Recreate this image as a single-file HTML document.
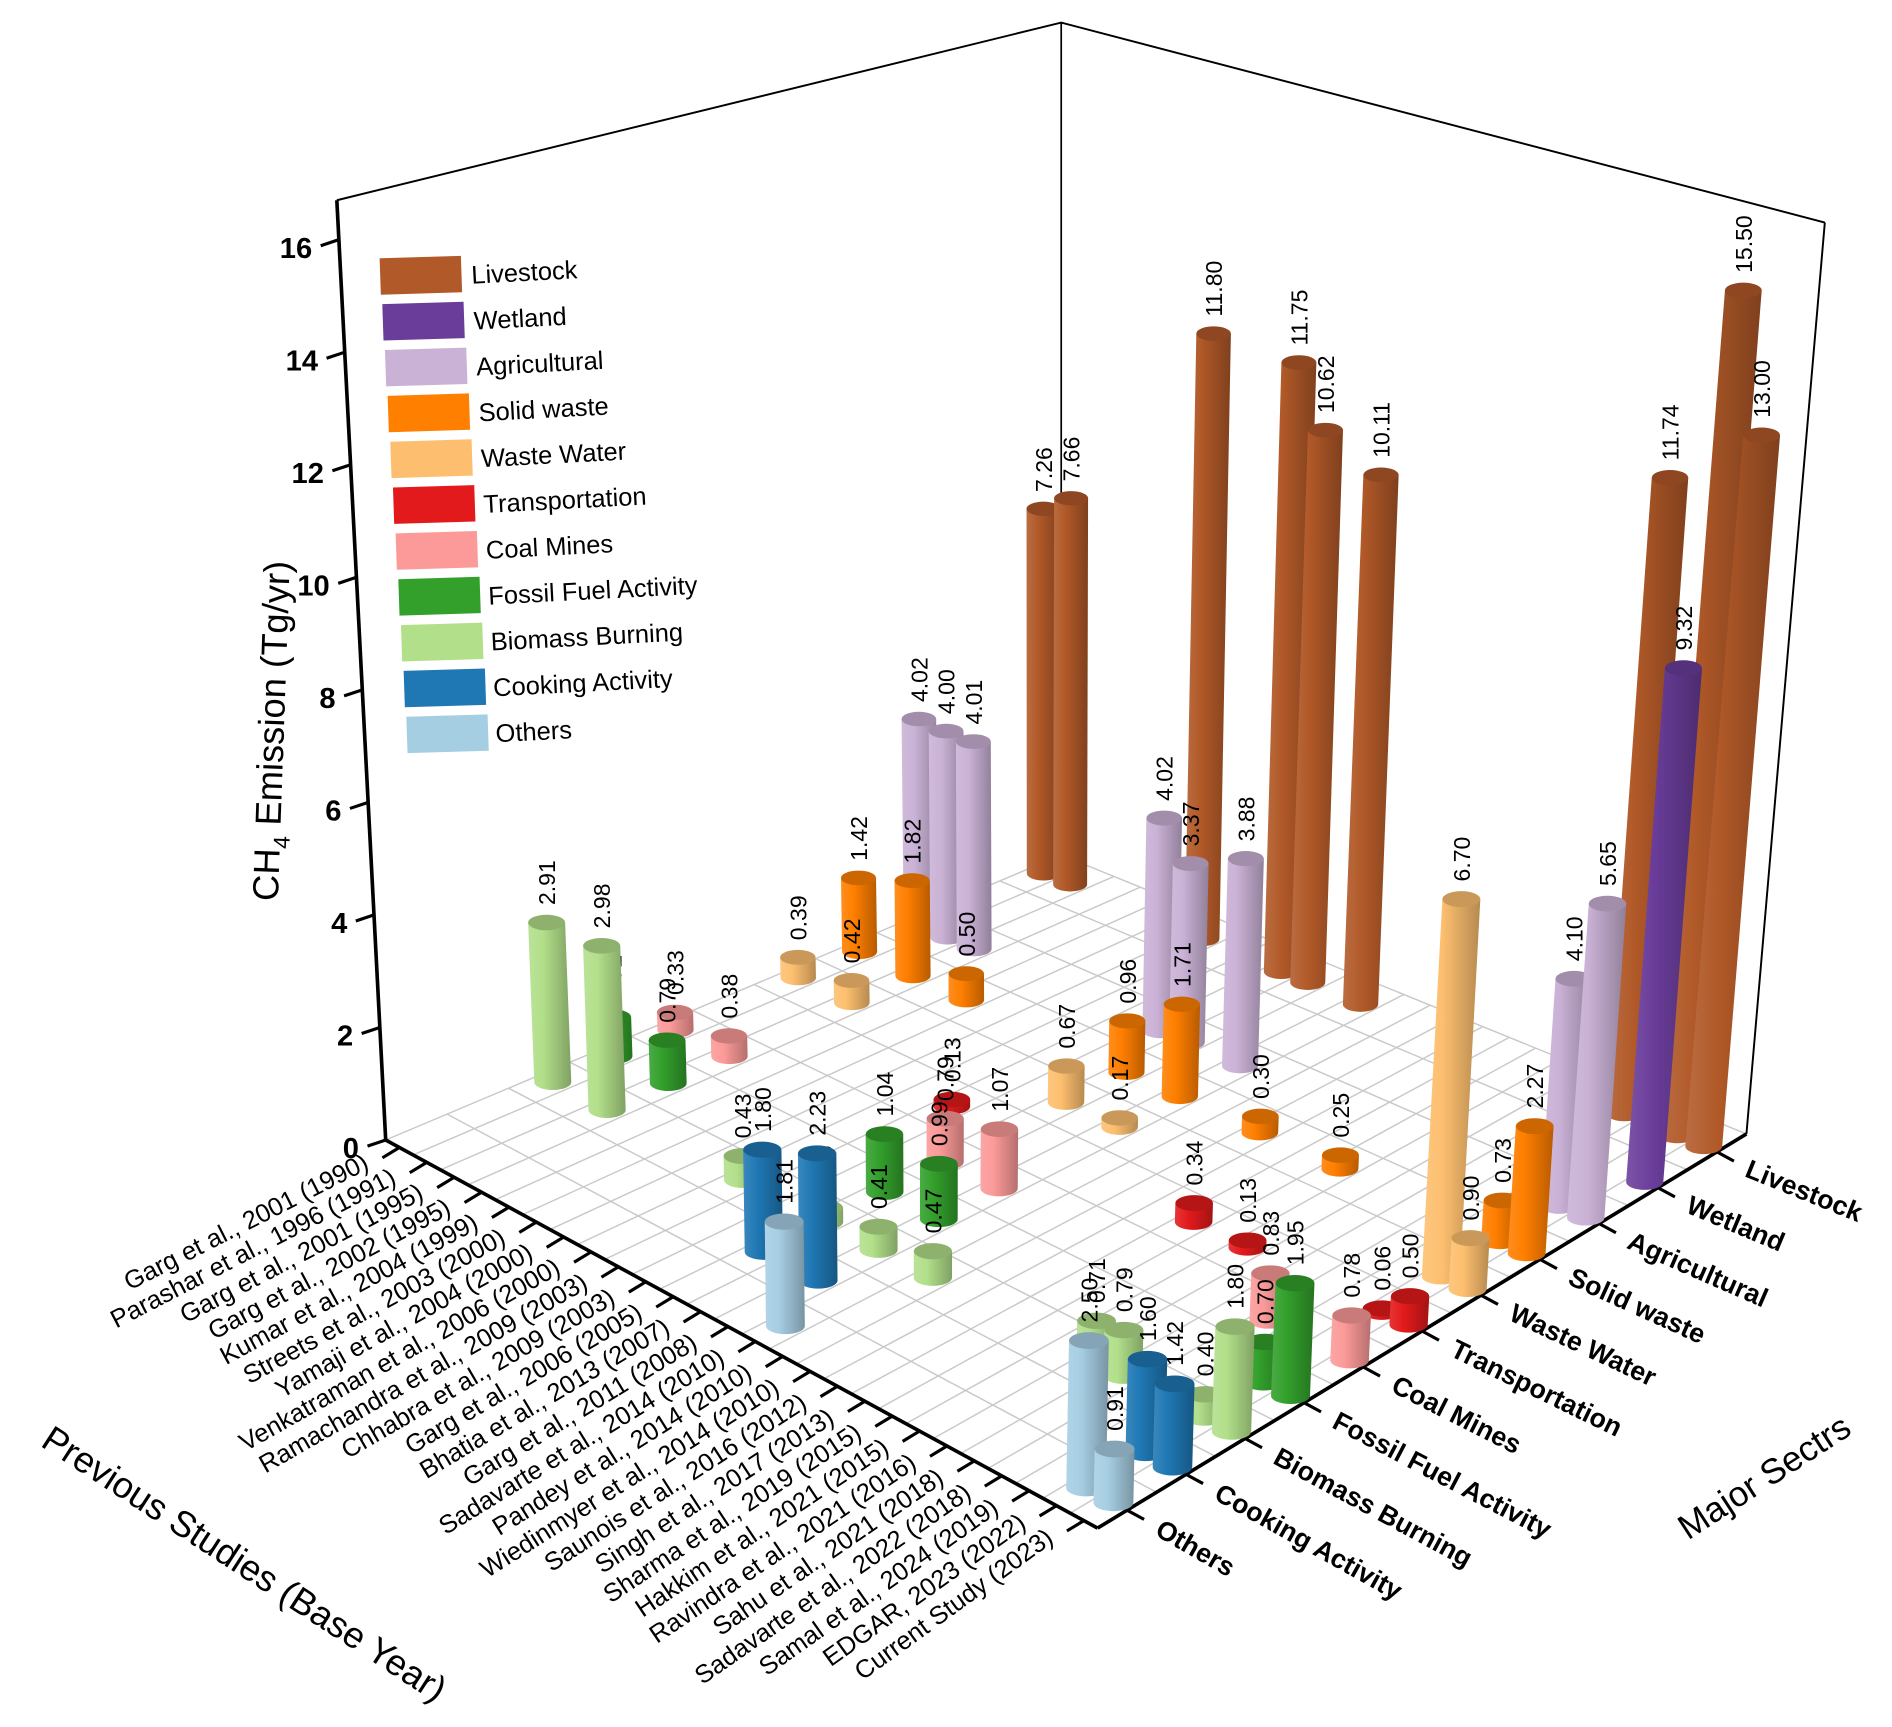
<!DOCTYPE html>
<html><head><meta charset="utf-8"><style>
html,body{margin:0;padding:0;background:#fff;}
svg{display:block;}
text{font-family:"Liberation Sans",Arial,sans-serif;}
</style></head><body>
<svg id="chart" xmlns="http://www.w3.org/2000/svg" width="1892" height="1727" viewBox="0 0 1560 1424">
<defs id="defs"></defs>
<g id="grid"></g>
<g id="walls"></g>
<g id="axes"></g>
<g id="legend"></g>
<g id="bars"></g>
<text transform="translate(234,603) rotate(-88)" text-anchor="middle" font-size="30" fill="#000">CH<tspan font-size="19" dy="8">4</tspan><tspan dy="-8"> Emission (Tg/yr)</tspan></text>
<text transform="translate(196,1298) rotate(33)" text-anchor="middle" font-size="30" fill="#000">Previous Studies (Base Year)</text>
<text transform="translate(1460,1226) rotate(-33)" text-anchor="middle" font-size="29" fill="#000">Major Sectrs</text>
</svg>
<script>
const studies=["Garg et al., 2001 (1990)","Parashar et al., 1996 (1991)","Garg et al., 2001 (1995)","Garg et al., 2002 (1995)","Kumar et al., 2004 (1999)","Streets et al., 2003 (2000)","Yamaji et al., 2004 (2000)","Venkatraman et al., 2006 (2000)","Ramachandra et al., 2009 (2003)","Chhabra et al., 2009 (2003)","Garg et al., 2006 (2005)","Bhatia et al., 2013 (2007)","Garg et al., 2011 (2008)","Sadavarte et al., 2014 (2010)","Pandey et al., 2014 (2010)","Wiedinmyer et al., 2014 (2010)","Saunois et al., 2016 (2012)","Singh et al., 2017 (2013)","Sharma et al., 2019 (2015)","Hakkim et al., 2021 (2015)","Ravindra et al., 2021 (2016)","Sahu et al., 2021 (2018)","Sadavarte et al., 2022 (2018)","Samal et al., 2024 (2019)","EDGAR, 2023 (2022)","Current Study (2023)"];
const sectors=["Others","Cooking Activity","Biomass Burning","Fossil Fuel Activity","Coal Mines","Transportation","Waste Water","Solid waste","Agricultural","Wetland","Livestock"];
const zTicks=[0,2,4,6,8,10,12,14,16];
const barStudy=[0,0,0,0,0,0,0, 1,1, 2,2,2,2,2,2, 4, 6, 7, 8, 9,9, 10,10,10,10,10,10,10,10, 12,12,12,12,12,12,12,12, 13,14,15,17,18,19,20,21,22,22, 24,24,24,24,24,24,24,24,24, 25,25,25,25,25,25,25,25,25,25,25];
const barSector=[2,3,4,6,7,8,10, 8,10, 2,3,4,6,7,8, 7, 10, 2, 5, 8,10, 1,2,3,4,6,7,8,10, 1,2,3,4,6,7,8,10, 0,2,7,5,7,5,2,2,4,10, 0,1,2,3,5,6,7,8,10, 0,1,2,3,4,5,6,7,8,9,10];
const barValue=[2.91,0.72,0.33,0.39,1.42,4.02,7.26, 4.00,7.66, 2.98,0.79,0.38,0.42,1.82,4.01, 0.50, 11.80, 0.43, 0.13, 4.02,11.75, 1.80,0.25,1.04,0.79,0.67,0.96,3.37,10.62, 2.23,0.41,0.99,1.07,0.17,1.71,3.88,10.11, 1.81,0.47,0.30,0.34,0.25,0.13,0.71,0.79,0.83,11.74, 2.50,1.60,0.40,0.70,0.06,6.70,0.73,4.10,15.50, 0.91,1.42,1.80,1.95,0.78,0.50,0.90,2.27,5.65,9.32,13.00];
const sectorColors=["#a6cee3","#1f78b4","#b2df8a","#33a02c","#fb9a99","#e31a1c","#fdbf6f","#ff7f00","#cab2d6","#6a3d9a","#b15928"];

const NS="http://www.w3.org/2000/svg";
const zMax=16.7;
const CL=[318,940],CF=[905,1260],CR=[1440,935],CB=[875,705];
const SC={L:46.4,F:49,R:45,B:41.1};
const TL={L:-0.052,F:0.02,R:0.086,B:0};
function bil(a,f,r,b,u,v){return (1-u)*(1-v)*a+u*(1-v)*f+u*v*r+(1-u)*v*b;}
function floorPt(u,v){return [bil(CL[0],CF[0],CR[0],CB[0],u,v),bil(CL[1],CF[1],CR[1],CB[1],u,v)];}
function scaleAt(u,v){return bil(SC.L,SC.F,SC.R,SC.B,u,v);}
function tiltAt(u,v){return bil(TL.L,TL.F,TL.R,TL.B,u,v);}
function uOf(i){return (i+0.5)/studies.length;}
function vOf(j){return (j+0.5)/sectors.length;}
function pt3(u,v,z){const p=floorPt(u,v);const h=z*scaleAt(u,v);return [p[0]+tiltAt(u,v)*h,p[1]-h];}
function el(tag,attrs,parent){const e=document.createElementNS(NS,tag);for(const k in attrs)e.setAttribute(k,attrs[k]);parent.appendChild(e);return e;}
function shade(hex,f){let r=parseInt(hex.substr(1,2),16),g=parseInt(hex.substr(3,2),16),b=parseInt(hex.substr(5,2),16);
 if(f>1){r=r+(255-r)*(f-1);g=g+(255-g)*(f-1);b=b+(255-b)*(f-1);}else{r*=f;g*=f;b*=f;}
 return "rgb("+Math.round(r)+","+Math.round(g)+","+Math.round(b)+")";}

const defs=document.getElementById('defs');
sectorColors.forEach((c,j)=>{
 const g=el('linearGradient',{id:'grad'+j,x1:'0',y1:'0',x2:'1',y2:'0'},defs);
 el('stop',{offset:'0','stop-color':shade(c,1.12)},g);
 el('stop',{offset:'0.35','stop-color':shade(c,1.0)},g);
 el('stop',{offset:'1','stop-color':shade(c,0.72)},g);
});

const grid=document.getElementById('grid');
for(let k=0;k<=studies.length;k++){const u=k/studies.length;const a=floorPt(u,0),b=floorPt(u,1);
 const ln=el('line',{x1:a[0],y1:a[1],x2:b[0],y2:b[1],stroke:'#c9c9c9','stroke-width':1.2},grid);
 
 }
for(let k=0;k<=sectors.length;k++){const v=k/sectors.length;const a=floorPt(0,v),b=floorPt(1,v);
 const ln=el('line',{x1:a[0],y1:a[1],x2:b[0],y2:b[1],stroke:'#c9c9c9','stroke-width':1.2},grid);
 
 }

const walls=document.getElementById('walls');
const tL=pt3(0,0,zMax),tB=pt3(0,1,zMax),tR=pt3(1,1,zMax);
const wl=el('polyline',{points:[tL,tB,tR].map(p=>p.join(',')).join(' '),fill:'none',stroke:'#000','stroke-width':1.6},walls);


const wb=el('line',{x1:CB[0],y1:CB[1],x2:tB[0],y2:tB[1],stroke:'#000','stroke-width':1.4},walls);


const wr=el('line',{x1:CR[0],y1:CR[1],x2:tR[0],y2:tR[1],stroke:'#000','stroke-width':1.6},walls);



const axes=document.getElementById('axes');
const ax1=el('line',{x1:CL[0],y1:CL[1],x2:CF[0],y2:CF[1],stroke:'#000','stroke-width':3},axes);


const ax2=el('line',{x1:CF[0],y1:CF[1],x2:CR[0],y2:CR[1],stroke:'#000','stroke-width':3},axes);


const ax3=el('line',{x1:CL[0],y1:CL[1],x2:tL[0],y2:tL[1],stroke:'#000','stroke-width':3},axes);


const nS=studies.length,nJ=sectors.length;
studies.forEach((s,i)=>{
 const u=uOf(i);const p=floorPt(u,0);
 const tk=el('line',{x1:p[0],y1:p[1],x2:p[0]-14,y2:p[1]+8.5,stroke:'#000','stroke-width':2.6},axes);
 
 
 const ang=-27-9*i/(nS-1);
 const t=el('text',{transform:'translate('+(p[0]-24)+','+(p[1]+17)+') rotate('+ang+')','text-anchor':'end','font-size':21,fill:'#000'},axes);
 t.textContent=s;
 
 
});
sectors.forEach((s,j)=>{
 const v=vOf(j);const p=floorPt(1,v);
 const tk=el('line',{x1:p[0],y1:p[1],x2:p[0]+14,y2:p[1]+7.6,stroke:'#000','stroke-width':2.6},axes);
 
 
 const ang=30-8*j/(nJ-1);
 const t=el('text',{transform:'translate('+(p[0]+22)+','+(p[1]+20)+') rotate('+ang+')','text-anchor':'start','font-size':22,'font-weight':'bold',fill:'#000'},axes);
 t.textContent=s;
 
 
});
zTicks.forEach(z=>{
 const p=pt3(0,0,z);
 const tk=el('line',{x1:p[0],y1:p[1],x2:p[0]-15,y2:p[1]+5,stroke:'#000','stroke-width':2.6},axes);
 
 
 const t=el('text',{x:p[0]-22,y:p[1]+15,'text-anchor':'end','font-size':24,'font-weight':'bold',fill:'#000'},axes);
 t.textContent=String(z);
 
 
});

const legend=document.getElementById('legend');
for(let k=0;k<nJ;k++){
 const j=nJ-1-k;
 const x=313+2.2*k,y=211+37.8*k;
 const sw=el('polygon',{points:[[x,y+2],[x+67,y],[x+68,y+30],[x+1,y+32]].map(p=>p.join(',')).join(' '),fill:sectorColors[j]},legend);
 
 
 const t=el('text',{transform:'translate('+(389+2*k)+','+(y+23)+') rotate(-3)','font-size':21,fill:'#000'},legend);
 t.textContent=sectors[j];
 
 
}

const barsG=document.getElementById('bars');
const idx=barValue.map((_,k)=>k);
idx.sort((a,b)=>floorPt(uOf(barStudy[a]),vOf(barSector[a]))[1]-floorPt(uOf(barStudy[b]),vOf(barSector[b]))[1]);
idx.forEach(k=>{
 const i=barStudy[k],j=barSector[k],val=barValue[k];
 const u=uOf(i),v=vOf(j);
 const b=floorPt(u,v),t=pt3(u,v,val);
 const s=scaleAt(u,v);const r=15.5*s/46,ry=r*0.42;
 const g=el('g',{},barsG);
 
 
 el('path',{d:'M'+(b[0]-r)+','+b[1]+' L'+(t[0]-r)+','+t[1]+' L'+(t[0]+r)+','+t[1]+' L'+(b[0]+r)+','+b[1]+' A'+r+','+ry+' 0 0 1 '+(b[0]-r)+','+b[1]+' Z',fill:'url(#grad'+j+')'},g);
 el('ellipse',{cx:t[0],cy:t[1],rx:r,ry:ry,fill:shade(sectorColors[j],0.8)},g);
 const lab=el('text',{transform:'translate('+(t[0]+7)+','+(t[1]-ry-8)+') rotate(-90)','font-size':19,fill:'#000'},g);
 lab.textContent=val.toFixed(2);
 
 
});
</script>
</body></html>
